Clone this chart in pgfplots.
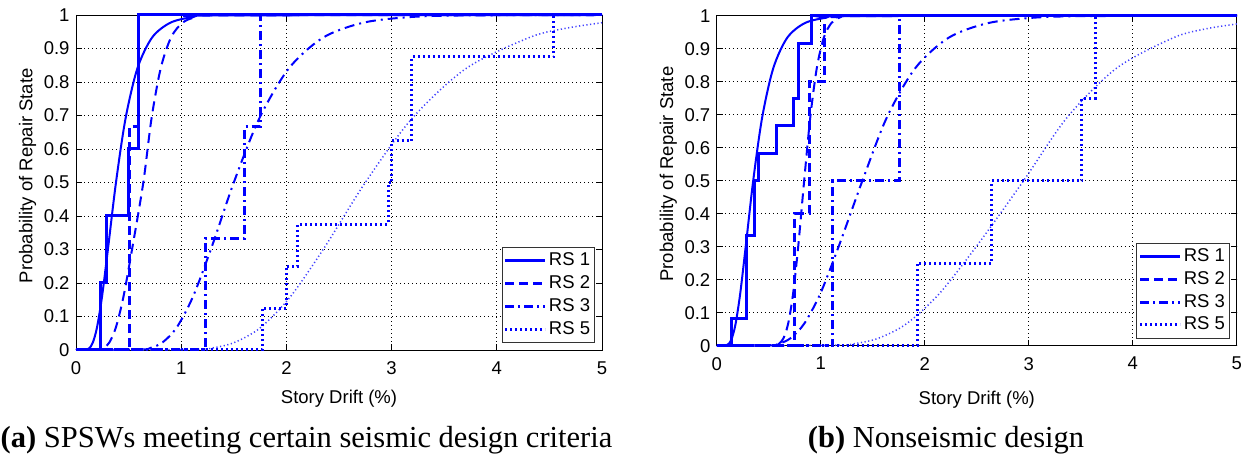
\documentclass[border=0pt]{standalone}
\usepackage{fontspec}
\setmainfont{Liberation Sans}
\newfontfamily\capfont{Liberation Serif}
\usepackage{pgfplots}
\pgfplotsset{compat=1.18}

\pgfplotsset{
  rsaxis/.style={
    scale only axis, anchor=south west,
    xmin=0, xmax=5, ymin=0, ymax=1,
    xtick={0,1,2,3,4,5}, xticklabels={0,1,2,3,4,5},
    ytick={0,0.1,0.2,0.3,0.4,0.5,0.6,0.7,0.8,0.9,1},
    yticklabels={0,0.1,0.2,0.3,0.4,0.5,0.6,0.7,0.8,0.9,1},
    /pgf/number format/assume math mode=true,
    ticklabel style={font=\fontsize{18.5bp}{21bp}\selectfont},
    label style={font=\fontsize{18.5bp}{21bp}\selectfont},
    xticklabel style={yshift=-8bp},
    yticklabel style={xshift=-3bp},
    grid=major,
    grid style={black, line width=0.7bp, dash pattern=on 1bp off 3bp},
    axis line style={black, line width=0.9bp},
    major tick length=6bp,
    tick style={black, line width=0.8bp},
    tick align=inside,
    clip=false,
    xlabel={Story Drift (\%)},
    ylabel={Probability of Repair State},
    legend cell align=left,
    legend style={at={(axis description cs:1,0)}, anchor=south east,
      xshift=-7.5bp, yshift=7bp, draw=black!80, line width=0.8bp,
      font=\fontsize{18.5bp}{21bp}\selectfont,
      inner xsep=2bp, inner ysep=3bp, row sep=1.7bp,
      nodes={inner sep=2bp, text height=13.5bp, text depth=3.5bp}},
    legend image code/.code={\draw[#1] (0bp,0bp) -- (40bp,0bp);},
  },
  stepA/.style={blue, line width=3bp, const plot},
  stepB/.style={blue, line width=3bp, const plot, dash pattern=on 9bp off 5bp},
  stepC/.style={blue, line width=3bp, const plot, dash pattern=on 9bp off 4bp on 2bp off 4bp},
  stepE/.style={blue, line width=3bp, const plot, dash pattern=on 2bp off 3bp},
  curA/.style={blue, line width=2bp, smooth},
  curB/.style={blue, line width=2bp, smooth, dash pattern=on 10bp off 6bp},
  curC/.style={blue, line width=2bp, smooth, dash pattern=on 10bp off 5bp on 2bp off 5bp},
  curE/.style={blue!75, line width=1.5bp, smooth, dash pattern=on 1.2bp off 2.5bp},
}

\begin{document}
\begin{tikzpicture}
\useasboundingbox (0,0) rectangle (1246bp,457bp);

% ---------------- (a) ----------------
\begin{axis}[rsaxis, at={(76bp,107bp)}, width=526bp, height=335bp,
  xlabel style={at={(axis description cs:0.5,-0.161)}, anchor=base},
  ylabel style={at={(axis description cs:-0.0922,0.52)}, anchor=center}]
\addplot[curA, forget plot] coordinates {(0,0)(0.1046,0.0013)(0.1297,0.0062)(0.1608,0.0228)(0.1993,0.0668)(0.2472,0.1587)(0.3065,0.3085)(0.38,0.5)(0.4712,0.6915)(0.5842,0.8413)(0.7244,0.9332)(0.8982,0.9772)(1.1136,0.9938)(1.3808,0.9987)(5,1)};
\addplot[curB, forget plot] coordinates {(0,0)(0.224,0.0013)(0.2668,0.0062)(0.3178,0.0228)(0.3786,0.0668)(0.451,0.1587)(0.5373,0.3085)(0.64,0.5)(0.718,0.6915)(0.8055,0.8413)(0.9037,0.9332)(1.0138,0.9772)(1.1373,0.9938)(1.276,0.9987)(5,1)};
\addplot[curC, forget plot] coordinates {(0,0)(0.6099,0.0013)(0.7086,0.0062)(0.8232,0.0228)(0.9564,0.0668)(1.1112,0.1587)(1.2911,0.3085)(1.5,0.5)(1.7427,0.6915)(2.0249,0.8413)(2.3525,0.9332)(2.7332,0.9772)(3.1755,0.9938)(3.6894,0.9987)(5,1)};
\addplot[curE, forget plot] coordinates {(0,0)(1.118,0.0013)(1.299,0.0062)(1.509,0.0228)(1.7535,0.0668)(2.0372,0.1587)(2.367,0.3085)(2.75,0.5)(3.195,0.6915)(3.712,0.8413)(4.313,0.9332)(4.65,0.96)(5,0.977)};
\addplot[stepA] coordinates {(0,0)(0.229,0.2)(0.292,0.4)(0.498,0.6)(0.593,1)(5,1)};
\addlegendentry{RS 1}
\addplot[stepB] coordinates {(0,0)(0.505,0.667)(0.593,1)(5,1)};
\addlegendentry{RS 2}
\addplot[stepC] coordinates {(0,0)(1.235,0.333)(1.603,0.667)(1.752,1)(5,1)};
\addlegendentry{RS 3}
\addplot[stepE] coordinates {(0,0)(1.77,0.125)(2.0,0.25)(2.11,0.375)(2.97,0.5)(3.0,0.625)(3.19,0.875)(4.54,1)(5,1)};
\addlegendentry{RS 5}
\end{axis}

% ---------------- (b) ----------------
\begin{axis}[rsaxis, at={(716.8bp,111.3bp)}, width=520bp, height=330bp,
  xlabel style={at={(axis description cs:0.5,-0.177)}, anchor=base},
  ylabel style={at={(axis description cs:-0.093,0.52)}, anchor=center}]
\addplot[curA, forget plot] coordinates {(0,0)(0.0935,0.0013)(0.1165,0.0062)(0.1452,0.0228)(0.1809,0.0668)(0.2254,0.1587)(0.2809,0.3085)(0.35,0.5)(0.4361,0.6915)(0.5434,0.8413)(0.6772,0.9332)(0.8438,0.9772)(1.0515,0.9938)(1.3102,0.9987)(5,1)};
\addplot[curB, forget plot] coordinates {(0,0)(0.5603,0.0013)(0.5994,0.0062)(0.6413,0.0228)(0.6861,0.0668)(0.7339,0.1587)(0.7852,0.3085)(0.84,0.5)(0.8986,0.6915)(0.9614,0.8413)(1.0285,0.9332)(1.1003,0.9772)(1.1771,0.9938)(1.2593,0.9987)(5,1)};
\addplot[curC, forget plot] coordinates {(0,0)(0.5048,0.0013)(0.5984,0.0062)(0.7092,0.0228)(0.8407,0.0668)(0.9965,0.1587)(1.1811,0.3085)(1.4,0.5)(1.6348,0.6915)(1.9088,0.8413)(2.2288,0.9332)(2.6025,0.9772)(3.0388,0.9938)(3.5483,0.9987)(5,1)};
\addplot[curE, forget plot] coordinates {(0,0)(1.1295,0.0013)(1.3256,0.0062)(1.5555,0.0228)(1.8254,0.0668)(2.1422,0.1587)(2.5139,0.3085)(2.95,0.5)(3.368,0.6915)(3.8453,0.8413)(4.3902,0.9332)(4.7,0.96)(5,0.975)};
\addplot[stepA] coordinates {(0,0)(0.143,0.0833)(0.286,0.333)(0.366,0.5)(0.398,0.583)(0.574,0.667)(0.742,0.75)(0.787,0.917)(0.915,1)(5,1)};
\addlegendentry{RS 1}
\addplot[stepB] coordinates {(0,0)(0.75,0.4)(0.89,0.8)(1.035,1)(5,1)};
\addlegendentry{RS 2}
\addplot[stepC] coordinates {(0,0)(1.115,0.5)(1.755,1)(5,1)};
\addlegendentry{RS 3}
\addplot[stepE] coordinates {(0,0)(1.928,0.25)(2.643,0.5)(3.51,0.75)(3.64,1)(5,1)};
\addlegendentry{RS 5}
\end{axis}

\node[anchor=base, font=\capfont\fontsize{30.5bp}{34bp}\selectfont] at (306.5bp,9.3bp) {\textbf{(a)} SPSWs meeting certain seismic design criteria};
\node[anchor=base, font=\capfont\fontsize{30.5bp}{34bp}\selectfont] at (946bp,9.3bp) {\textbf{(b)} Nonseismic design};
\end{tikzpicture}
\end{document}
